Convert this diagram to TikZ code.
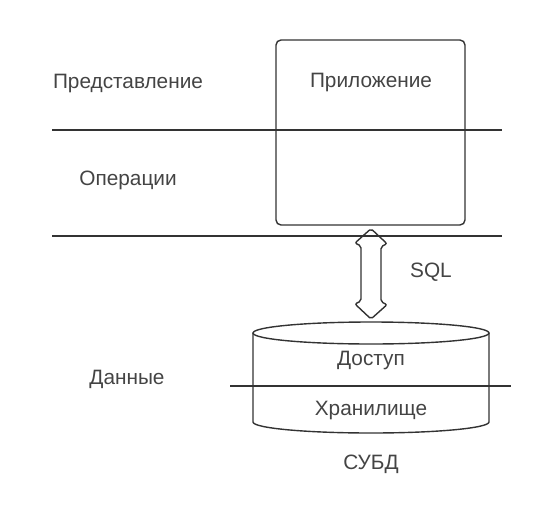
\documentclass[tikz,border=0pt]{standalone}
\usepackage{fontspec}
\setmainfont{Liberation Sans}
\usepackage{tikz}
\usetikzlibrary{positioning,calc}
\definecolor{linegray}{HTML}{333333}
\definecolor{textgray}{HTML}{444444}

\begin{document}
\begin{tikzpicture}[x=1pt, y=-1pt, line width=1.4pt, draw=linegray,
                    label text/.style={text=textgray,font=\fontsize{20.8}{24}\selectfont},
                    app box/.style={draw=linegray,rounded corners=5pt,minimum width=189pt,minimum height=185pt,inner sep=0pt},
                    sql arrow/.style={draw=linegray,rounded corners=2pt}]
  \useasboundingbox (0,0) rectangle (552,512);

  % layers
  \coordinate (l1a) at (52,130);  \coordinate (l1b) at (502,130);
  \coordinate (l2a) at (52,236);  \coordinate (l2b) at (502,236);
  \coordinate (l3a) at (230,386); \coordinate (l3b) at (511,386);

  \node[label text] (pres) at (128,83)  {Представление};
  \node[label text] (oper) at (128,180) {Операции};
  \node[label text] (data) at (127,379) {Данные};

  % application
  \node[app box] (app) at (370.5,132.5) {};
  \node[label text] (appname) at (371,82) {Приложение};

  % database
  \coordinate (dbtop) at (371,322);
  \draw[linegray] (253,333) -- (253,422) arc[start angle=180,end angle=360,x radius=118,y radius=-11]
                  -- (489,333);
  \draw[linegray] (371,333) ellipse[x radius=118,y radius=11];
  \node[label text] (access) at (371,360) {Доступ};
  \node[label text] (store)  at (371,410) {Хранилище};
  \node[label text] (dbms)   at (371,464) {СУБД};

  % sql
  \coordinate (sqltop) at ($(app.south)+(0.5,3)$);
  \coordinate (sqlbot) at ($(dbtop)+(0,-3)$);
  \draw[sql arrow] (sqltop) -- ++(16,15) -- ++(-6,3) -- ++(0,55) -- ++(6,3) -- (sqlbot)
                   -- ++(-16,-15) -- ++(6,-3) -- ++(0,-55) -- ++(-6,-3) -- cycle;
  \node[label text] (sqlname) at (431,272) {SQL};

  \draw[linegray] (l1a) -- (l1b);
  \draw[linegray] (l2a) -- (l2b);
  \draw[linegray] (l3a) -- (l3b);
\end{tikzpicture}
\end{document}
